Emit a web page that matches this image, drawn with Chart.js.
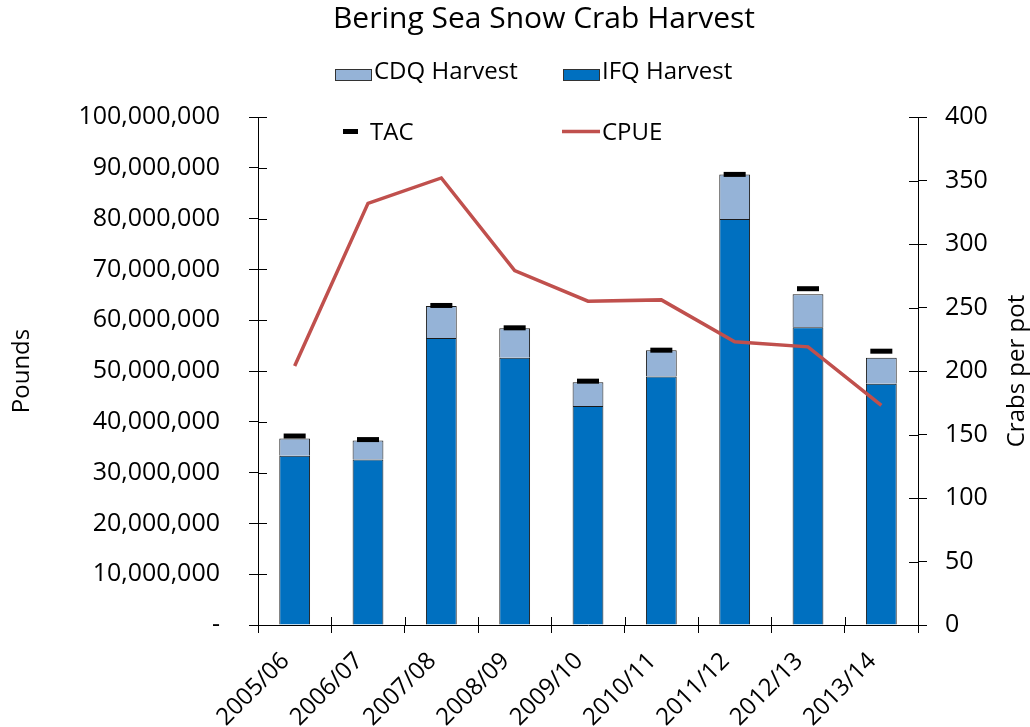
<!DOCTYPE html>
<html>
<head>
<meta charset="utf-8">
<title>Bering Sea Snow Crab Harvest</title>
<script src="https://cdn.jsdelivr.net/npm/chart.js@4.4.1/dist/chart.umd.min.js"></script>
<style>
  html, body { margin:0; padding:0; background:#fff; }
  #wrap { width:1030px; height:727px; }
</style>
</head>
<body>
<div id="wrap"><canvas id="chart" width="1030" height="727"></canvas></div>
<script>
// season labels + values (pounds in millions, CPUE in crabs/pot)
const SEASONS = ['2005/06','2006/07','2007/08','2008/09','2009/10','2010/11','2011/12','2012/13','2013/14'];
const IFQ_M   = [33.3, 32.6, 56.5, 52.6, 43.1, 48.9, 79.9, 58.6, 47.5];
const CDQ_M   = [3.4, 3.7, 6.3, 5.8, 4.7, 5.2, 8.8, 6.5, 5.1];
const TAC_M   = [37.2, 36.5, 62.9, 58.5, 48.0, 54.1, 88.7, 66.2, 53.9];
const CPUE    = [204, 332, 352, 279, 255, 256, 223, 219, 173];

const POUNDS_MAX = 100000000, POUNDS_STEP = 10000000;
const CPUE_MAX = 400, CPUE_STEP = 50;

const TITLE = 'Bering Sea Snow Crab Harvest';
const IFQ_COLOR = '#0070C0', CDQ_COLOR = '#95B3D7', CPUE_COLOR = '#C0504D';
const FONT = "'Open Sans', 'Liberation Sans', sans-serif";

const toLbs = arr => arr.map(v => Math.round(v * 1e6));

// title, legend (2x2 block), inner halves of the tick marks, right axis title
const overlay = {
  id:'overlay',
  afterDraw(chart){
    const ctx = chart.ctx, area = chart.chartArea;
    const x = chart.scales.x, y = chart.scales.y, y1 = chart.scales.y1;
    ctx.save();
    ctx.strokeStyle = '#000'; ctx.lineWidth = 1;
    ctx.beginPath();
    y.ticks.forEach((t,i) => { const p = Math.round(y.getPixelForTick(i)) + .5; ctx.moveTo(area.left, p); ctx.lineTo(area.left + 9, p); });
    y1.ticks.forEach((t,i) => { const p = Math.round(y1.getPixelForTick(i)) + .5; ctx.moveTo(area.right - 9, p); ctx.lineTo(area.right, p); });
    for(let i = 0; i <= SEASONS.length; i++){
      const p = Math.round(x.getPixelForValue(i - 0.5)) + .5;
      ctx.moveTo(p, area.bottom - 8); ctx.lineTo(p, area.bottom);
    }
    ctx.stroke();

    ctx.fillStyle = '#000';
    ctx.textAlign = 'center'; ctx.textBaseline = 'middle';
    ctx.font = '30px ' + FONT;
    ctx.fillText(TITLE, 544, 19);

    // right axis title, reading bottom-to-top like the left one
    ctx.font = '24px ' + FONT;
    ctx.translate(1017, (area.top + area.bottom) / 2);
    ctx.rotate(-Math.PI / 2);
    ctx.fillText('Crabs per pot', 0, 0);
    ctx.setTransform(1,0,0,1,0,0);

    // legend
    ctx.textAlign = 'left'; ctx.textBaseline = 'alphabetic';
    ctx.lineWidth = 1; ctx.strokeStyle = '#333';
    ctx.fillStyle = CDQ_COLOR; ctx.fillRect(335, 69, 36, 11); ctx.strokeRect(335.5, 69.5, 36, 11);
    ctx.fillStyle = IFQ_COLOR; ctx.fillRect(563, 69, 36, 11); ctx.strokeRect(563.5, 69.5, 36, 11);
    ctx.fillStyle = '#000';
    ctx.fillText('CDQ Harvest', 374, 79);
    ctx.fillText('IFQ Harvest', 602, 79);
    ctx.fillRect(343, 129, 15, 5);
    ctx.strokeStyle = CPUE_COLOR; ctx.lineWidth = 3.5;
    ctx.beginPath(); ctx.moveTo(562, 131.5); ctx.lineTo(600, 131.5); ctx.stroke();
    ctx.fillText('TAC', 370, 140);
    ctx.fillText('CPUE', 602, 140);
    ctx.restore();
  }
};

Chart.defaults.font.family = FONT;
Chart.defaults.color = '#000';

new Chart(document.getElementById('chart'), {
  type:'bar',
  data:{
    labels: SEASONS,
    datasets:[
      { type:'line', label:'CPUE', data: CPUE, yAxisID:'y1', borderColor: CPUE_COLOR, borderWidth:3.5,
        pointRadius:0, tension:0, fill:false, order:0 },
      { type:'line', label:'TAC', data: toLbs(TAC_M), yAxisID:'y', showLine:false, pointStyle:'line',
        pointRadius:11, pointBorderWidth:5, pointBorderColor:'#000', borderColor:'#000', order:1 },
      { label:'IFQ Harvest', data: toLbs(IFQ_M), yAxisID:'y', stack:'h', backgroundColor: IFQ_COLOR,
        borderColor:'#1a1a1a', borderWidth:1, barPercentage:.42, categoryPercentage:1, order:2 },
      { label:'CDQ Harvest', data: toLbs(CDQ_M), yAxisID:'y', stack:'h', backgroundColor: CDQ_COLOR,
        borderColor:'#1a1a1a', borderWidth:1, barPercentage:.42, categoryPercentage:1, order:3 },
    ]
  },
  options:{
    responsive:false, animation:false, devicePixelRatio:1,
    layout:{ padding:{ top:117 } },
    plugins:{
      legend:{ display:false },
      tooltip:{ enabled:false },
      title:{ display:false },
    },
    scales:{
      x:{
        stacked:true,
        grid:{ display:true, drawOnChartArea:false, drawTicks:true, tickLength:8, color:'#000', offset:true },
        border:{ display:true, color:'#000', width:1 },
        ticks:{ font:{ size:24 }, color:'#000', minRotation:45, maxRotation:45, padding:14, labelOffset:-9 },
        afterFit: s => { s.height = 102; }
      },
      y:{
        position:'left', stacked:true, min:0, max:POUNDS_MAX,
        grid:{ display:true, drawOnChartArea:false, tickLength:9, color:'#000' },
        border:{ display:true, color:'#000', width:1 },
        ticks:{ stepSize:POUNDS_STEP, font:{ size:25 }, color:'#000', padding:29,
          callback: v => v === 0 ? '-' : v.toLocaleString('en-US') },
        title:{ display:true, text:'Pounds', font:{ size:24 }, color:'#000', padding:{ top:8 } },
        afterFit: s => { s.width = 258; }
      },
      y1:{
        position:'right', min:0, max:CPUE_MAX,
        grid:{ display:true, drawOnChartArea:false, tickLength:9, color:'#000' },
        border:{ display:true, color:'#000', width:1 },
        ticks:{ stepSize:CPUE_STEP, font:{ size:25 }, color:'#000', padding:18 },
        afterFit: s => { s.width = 112; }
      }
    }
  },
  plugins:[overlay]
});
</script>
</body>
</html>
